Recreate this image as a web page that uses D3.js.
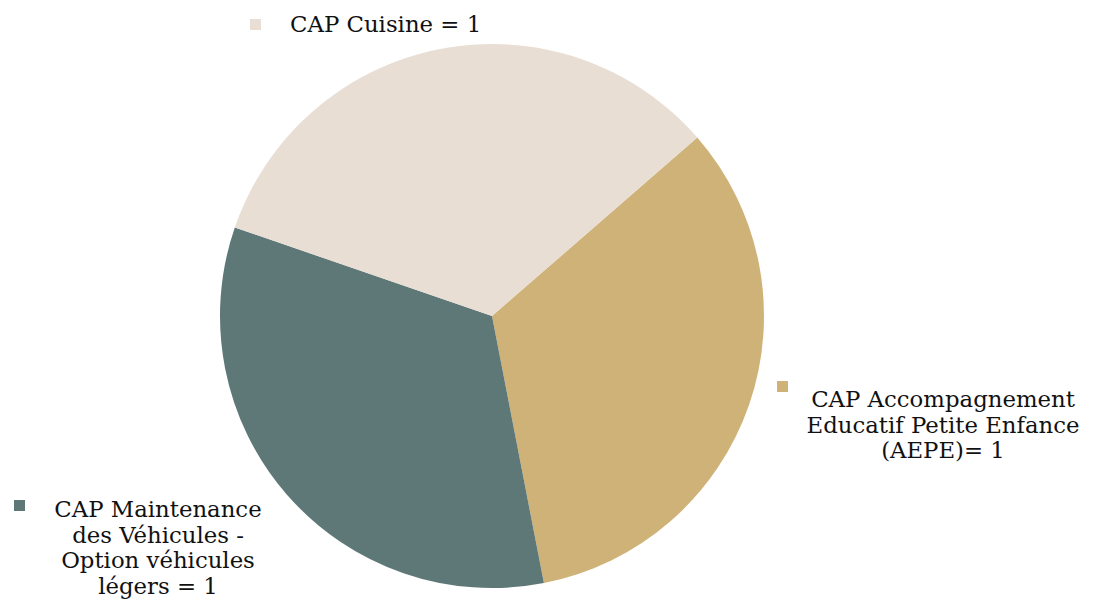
<!DOCTYPE html>
<html>
<head>
<meta charset="utf-8">
<script src="https://cdn.jsdelivr.net/npm/d3@7"></script>
<style>
  html, body { margin: 0; padding: 0; background: #fff; }
  svg text { font-family: "DejaVu Serif", Georgia, serif; fill: #111; }
</style>
</head>
<body>
<svg id="chart" width="1096" height="603"></svg>
<script>
// données
const categories = ["CAP Accompagnement Educatif Petite Enfance (AEPE)", "CAP Maintenance des Véhicules - Option véhicules légers", "CAP Cuisine"];
const values = [1, 1, 1];
const colors = ["#cfb278", "#5e7877", "#e8ded4"];
// libellés affichés, ligne par ligne
const labels = [
  ["CAP Accompagnement", "Educatif Petite Enfance", "(AEPE)= 1"],
  ["CAP Maintenance", "des Véhicules -", "Option véhicules", "légers = 1"],
  ["CAP Cuisine = 1"]
];

const svg = d3.select("#chart"),
  cx = 492, cy = 316, radius = 272;

const pie = d3.pie().sort(null).value(d => d).startAngle(49 * Math.PI / 180).endAngle(409 * Math.PI / 180);
const arc = d3.arc().innerRadius(0).outerRadius(radius);
const color = d3.scaleOrdinal().domain(categories).range(colors);

const g = svg.append("g").attr("transform", `translate(${cx},${cy})`);
g.selectAll("path")
  .data(pie(values))
  .join("path")
  .attr("d", arc)
  .attr("fill", (d, i) => color(categories[i]));

// position des légendes (marqueur + texte centré)
const legendPos = [
  {mx: 777, my: 381, tx: 943, ty: 407, anchor: "middle"},
  {mx: 14, my: 500, tx: 158, ty: 517, anchor: "middle"},
  {mx: 250, my: 19, tx: 290, ty: 32, anchor: "start"}
];
const lineH = 25.5;

labels.forEach((lines, i) => {
  const p = legendPos[i];
  svg.append("rect")
    .attr("x", p.mx).attr("y", p.my)
    .attr("width", 11).attr("height", 11)
    .attr("fill", color(categories[i]));
  const t = svg.append("text")
    .attr("x", p.tx).attr("y", p.ty)
    .attr("text-anchor", p.anchor)
    .style("font-size", "22.8px");
  lines.forEach((l, j) => {
    t.append("tspan").attr("x", p.tx).attr("y", p.ty + j * lineH).text(l);
  });
});
</script>
</body>
</html>
